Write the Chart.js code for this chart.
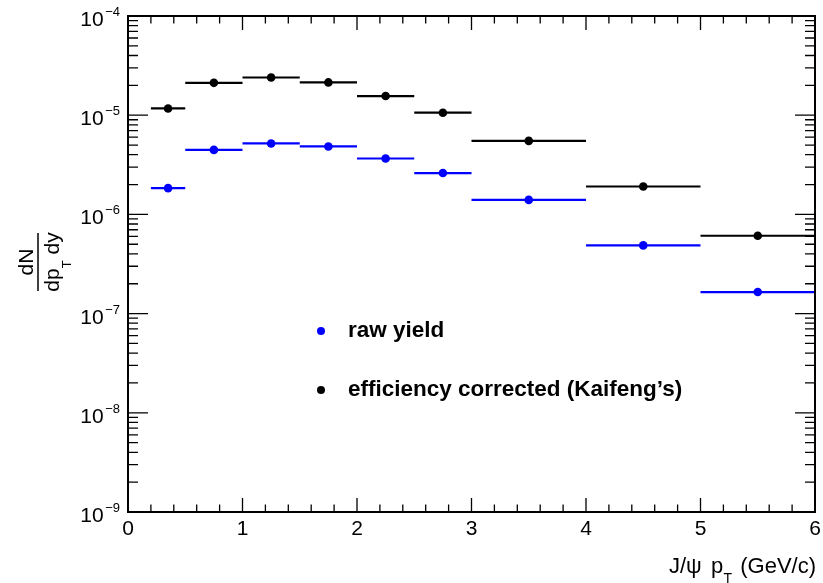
<!DOCTYPE html>
<html>
<head>
<meta charset="utf-8">
<script src="https://cdn.jsdelivr.net/npm/chart.js@4"></script>
<style>
  html, body { margin: 0; padding: 0; background: #fff; }
  canvas { display: block; }
</style>
</head>
<body>
<canvas id="yieldChart" width="823" height="583"></canvas>
<script>
// J/psi pT bins (GeV/c)
const binLow = [0.2, 0.5, 1.0, 1.5, 2.0, 2.5, 3.0, 4.0, 5.0];
const binHigh = [0.5, 1.0, 1.5, 2.0, 2.5, 3.0, 4.0, 5.0, 6.0];
const binCenter = [0.35, 0.75, 1.25, 1.75, 2.25, 2.75, 3.5, 4.5, 5.5];

// dN/dpT dy values
const rawYield = [1.84e-6, 4.47e-6, 5.19e-6, 4.84e-6, 3.66e-6, 2.61e-6, 1.40e-6, 4.87e-7, 1.65e-7];
const corrected = [1.17e-5, 2.12e-5, 2.40e-5, 2.14e-5, 1.56e-5, 1.06e-5, 5.51e-6, 1.91e-6, 6.09e-7];

const xTickLabels = ['0', '1', '2', '3', '4', '5', '6'];
const yTickExponents = [-9, -8, -7, -6, -5, -4];

const seriesNames = ['raw yield', "efficiency corrected (Kaifeng\u2019s)"];
const seriesColors = ['#0000ff', '#000000'];

const FONT = '"Liberation Sans", Arial, Helvetica, sans-serif';

function toPoints(values) {
    return values.map((v, i) => ({ x: binCenter[i], y: v }));
}

// horizontal bars showing bin width
const binBars = {
    id: 'binBars',
    beforeDatasetsDraw(chart) {
        const ctx = chart.ctx;
        const xs = chart.scales.x, ys = chart.scales.y;
        ctx.save();
        ctx.lineWidth = 2.2;
        chart.data.datasets.forEach(ds => {
            ctx.strokeStyle = ds.backgroundColor;
            ds.data.forEach((p, i) => {
                const y = ys.getPixelForValue(p.y);
                ctx.beginPath();
                ctx.moveTo(xs.getPixelForValue(binLow[i]), y);
                ctx.lineTo(xs.getPixelForValue(binHigh[i]), y);
                ctx.stroke();
            });
        });
        ctx.restore();
    }
};

// ROOT-like frame, inward ticks, labels, titles and legend
const rootFrame = {
    id: 'rootFrame',
    afterDraw(chart) {
        const ctx = chart.ctx;
        const a = chart.chartArea;
        const xs = chart.scales.x, ys = chart.scales.y;
        ctx.save();
        ctx.fillStyle = '#000';
        ctx.strokeStyle = '#000';

        // x ticks: major every 1, minor every 0.2
        ctx.lineWidth = 1.3;
        for (let k = 0; k <= 30; k++) {
            const px = xs.getPixelForValue(k * 0.2);
            const len = k % 5 === 0 ? 14 : 7.5;
            ctx.beginPath();
            ctx.moveTo(px, a.bottom); ctx.lineTo(px, a.bottom - len);
            ctx.moveTo(px, a.top); ctx.lineTo(px, a.top + len);
            ctx.stroke();
        }
        // y ticks: decades major, 2..9 minor
        for (let e = -9; e <= -4; e++) {
            for (let m = 1; m <= 9; m++) {
                if (e === -4 && m > 1) break;
                const py = ys.getPixelForValue(m * Math.pow(10, e));
                const len = m === 1 ? 20 : 10;
                ctx.beginPath();
                ctx.moveTo(a.left, py); ctx.lineTo(a.left + len, py);
                ctx.moveTo(a.right, py); ctx.lineTo(a.right - len, py);
                ctx.stroke();
            }
        }

        // frame
        ctx.lineWidth = 2;
        ctx.strokeRect(a.left, a.top, a.right - a.left, a.bottom - a.top);

        // x tick labels
        ctx.font = '21px ' + FONT;
        ctx.textAlign = 'center';
        ctx.textBaseline = 'alphabetic';
        xTickLabels.forEach((t, i) => {
            ctx.fillText(t, xs.getPixelForValue(i), a.bottom + 23);
        });

        // y tick labels 10^n
        yTickExponents.forEach(e => {
            const py = ys.getPixelForValue(Math.pow(10, e));
            ctx.font = '13px ' + FONT;
            ctx.textAlign = 'right';
            const expText = '\u2212' + Math.abs(e);
            ctx.fillText(expText, 120, py);
            const ew = ctx.measureText(expText).width;
            ctx.font = '21px ' + FONT;
            ctx.fillText('10', 120 - ew - 1.5, py + 10);
        });

        // x title: J/psi p_T (GeV/c)
        ctx.textAlign = 'left';
        ctx.font = '22px ' + FONT;
        ctx.fillText('J/\u03c8', 669, 573);
        ctx.fillText('p', 711, 573);
        ctx.textAlign = 'right';
        ctx.fillText('(GeV/c)', 816, 573);
        ctx.textAlign = 'left';
        ctx.font = '14px ' + FONT;
        ctx.fillText('T', 723.5, 583);

        // y title: dN / dp_T dy (rotated)
        ctx.save();
        ctx.translate(38, 262);
        ctx.rotate(-Math.PI / 2);
        ctx.font = '21px ' + FONT;
        ctx.textAlign = 'center';
        ctx.fillText('dN', 0, -5);
        ctx.lineWidth = 1.5;
        ctx.beginPath();
        ctx.moveTo(-29, 0); ctx.lineTo(29, 0);
        ctx.stroke();
        ctx.textAlign = 'left';
        const dA = 'dp', dB = 'T', dC = ' dy';
        const wa = ctx.measureText(dA).width, wc = ctx.measureText(dC).width;
        ctx.font = '13px ' + FONT;
        const wb = ctx.measureText(dB).width;
        const u0 = -(wa + wb + wc) / 2;
        ctx.font = '21px ' + FONT;
        ctx.fillText(dA, u0, 21);
        ctx.font = '13px ' + FONT;
        ctx.fillText(dB, u0 + wa, 33);
        ctx.font = '21px ' + FONT;
        ctx.fillText(dC, u0 + wa + wb, 21);
        ctx.restore();

        // legend
        const legendY = [331, 390];
        seriesNames.forEach((name, i) => {
            ctx.fillStyle = seriesColors[i];
            ctx.beginPath();
            ctx.arc(321, legendY[i], 4, 0, Math.PI * 2);
            ctx.fill();
            ctx.fillStyle = '#000';
            ctx.font = 'bold 22.5px ' + FONT;
            ctx.textAlign = 'left';
            ctx.fillText(name, 348, legendY[i] + 6);
        });

        ctx.restore();
    }
};

function initializeChart() {
    const ctx = document.getElementById('yieldChart').getContext('2d');
    new Chart(ctx, {
        type: 'scatter',
        data: {
            datasets: [
                {
                    label: seriesNames[0],
                    data: toPoints(rawYield),
                    backgroundColor: seriesColors[0],
                    borderWidth: 0,
                    pointRadius: 4.3,
                },
                {
                    label: seriesNames[1],
                    data: toPoints(corrected),
                    backgroundColor: seriesColors[1],
                    borderWidth: 0,
                    pointRadius: 4.3,
                },
            ],
        },
        options: {
            responsive: false,
            animation: false,
            layout: { padding: { left: 128, top: 16, right: 8, bottom: 71 } },
            plugins: {
                legend: { display: false },
                tooltip: { enabled: false },
            },
            scales: {
                x: { type: 'linear', min: 0, max: 6, display: false },
                y: { type: 'logarithmic', min: 1e-9, max: 1e-4, display: false },
            },
        },
        plugins: [binBars, rootFrame],
    });
}

window.onload = initializeChart;
</script>
</body>
</html>
